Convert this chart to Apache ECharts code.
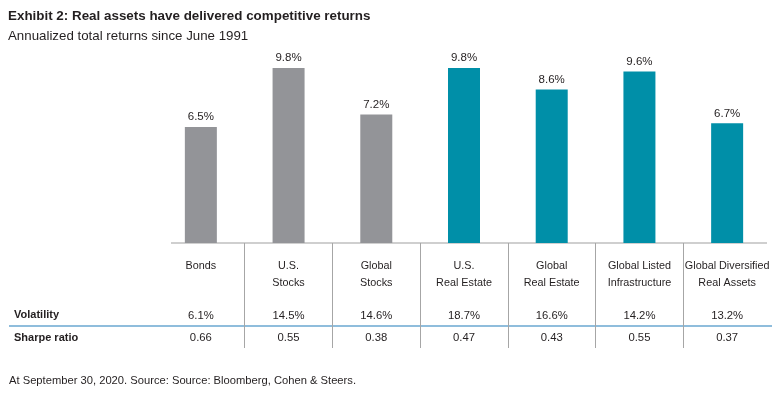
<!DOCTYPE html>
<html>
<head>
<meta charset="utf-8">
<script src="https://cdn.jsdelivr.net/npm/echarts@6/dist/echarts.min.js"></script>
<style>html,body{margin:0;padding:0;background:#fff;}#c{width:780px;height:394px;}</style>
</head>
<body>
<div id="c"></div>
<script>
const categories = ['Bonds', 'U.S.\nStocks', 'Global\nStocks', 'U.S.\nReal Estate', 'Global\nReal Estate', 'Global Listed\nInfrastructure', 'Global Diversified\nReal Assets'];
const returns = [6.5, 9.8, 7.2, 9.8, 8.6, 9.6, 6.7];
const barColors = ['#939498', '#939498', '#939498', '#008fa8', '#008fa8', '#008fa8', '#008fa8'];
const volatility = ['6.1%', '14.5%', '14.6%', '18.7%', '16.6%', '14.2%', '13.2%'];
const sharpe = ['0.66', '0.55', '0.38', '0.47', '0.43', '0.55', '0.37'];
const rowLabels = ['Volatility', 'Sharpe ratio'];

const FONT = '"Liberation Sans Narrow", "Arial Narrow", "Liberation Sans", Arial, sans-serif';
const chart = echarts.init(document.getElementById('c'));
const gridL = 157, gridR = 9;
chart.setOption({
  animation: false,
  textStyle: { fontFamily: FONT },
  title: {
    left: 3, top: 5,
    text: 'Exhibit 2: Real assets have delivered competitive returns',
    textStyle: { fontFamily: FONT, fontSize: 13.4, fontWeight: 'bold', color: '#231f20' },
    subtext: 'Annualized total returns since June 1991',
    subtextStyle: { fontFamily: FONT, fontSize: 13.3, color: '#231f20' },
    itemGap: 7
  },
  grid: [
    { left: gridL, right: gridR, top: 64.4, bottom: 151 },
    { left: gridL, right: gridR, top: 243, bottom: 46 }
  ],
  xAxis: [
    {
      type: 'category', gridIndex: 0, data: categories,
      axisLine: { show: false },
      axisTick: { show: false },
      axisLabel: { interval: 0, margin: 14.5, fontSize: 10.8, lineHeight: 17, color: '#231f20', fontFamily: FONT }
    },
    {
      type: 'category', gridIndex: 0, data: volatility, position: 'bottom', offset: 58,
      axisLine: { show: false }, axisTick: { show: false },
      axisLabel: { interval: 0, margin: 8, fontSize: 11.3, lineHeight: 14, color: '#231f20', fontFamily: FONT }
    },
    {
      type: 'category', gridIndex: 0, data: sharpe, position: 'bottom', offset: 80,
      axisLine: { show: false }, axisTick: { show: false },
      axisLabel: { interval: 0, margin: 8, fontSize: 11.3, lineHeight: 14, color: '#231f20', fontFamily: FONT }
    },
    {
      type: 'category', gridIndex: 1, data: categories,
      axisLine: { show: false }, axisTick: { show: false }, axisLabel: { show: false },
      splitLine: { show: true, interval: 0, showMinLine: false, showMaxLine: false, lineStyle: { color: '#a6a6a6', width: 1 } }
    }
  ],
  yAxis: [
    { type: 'value', gridIndex: 0, min: 0, max: 10, show: false },
    { type: 'value', gridIndex: 1, show: false }
  ],
  series: [{
    type: 'bar', xAxisIndex: 0, yAxisIndex: 0, barWidth: 32,
    data: returns.map((v, i) => ({ value: v, itemStyle: { color: barColors[i] } })),
    label: { show: true, position: 'top', distance: 4, formatter: p => p.value.toFixed(1) + '%', fontSize: 11.5, color: '#231f20', fontFamily: FONT }
  }],
  graphic: [
    { type: 'line', shape: { x1: 171, y1: 243, x2: 767, y2: 243 }, style: { stroke: '#bfbfbf', lineWidth: 1.5 } },
    { type: 'line', shape: { x1: 9, y1: 326, x2: 772, y2: 326 }, style: { stroke: '#6aa7d0', lineWidth: 1.5 } },
    { type: 'text', left: 14, top: 309, style: { text: rowLabels[0], font: 'bold 11px ' + FONT, fill: '#231f20' } },
    { type: 'text', left: 14, top: 332, style: { text: rowLabels[1], font: 'bold 11px ' + FONT, fill: '#231f20' } },
    { type: 'text', left: 9, top: 375, style: { text: 'At September 30, 2020. Source: Source: Bloomberg, Cohen & Steers.', font: '11.2px ' + FONT, fill: '#231f20' } }
  ]
});
</script>
</body>
</html>
